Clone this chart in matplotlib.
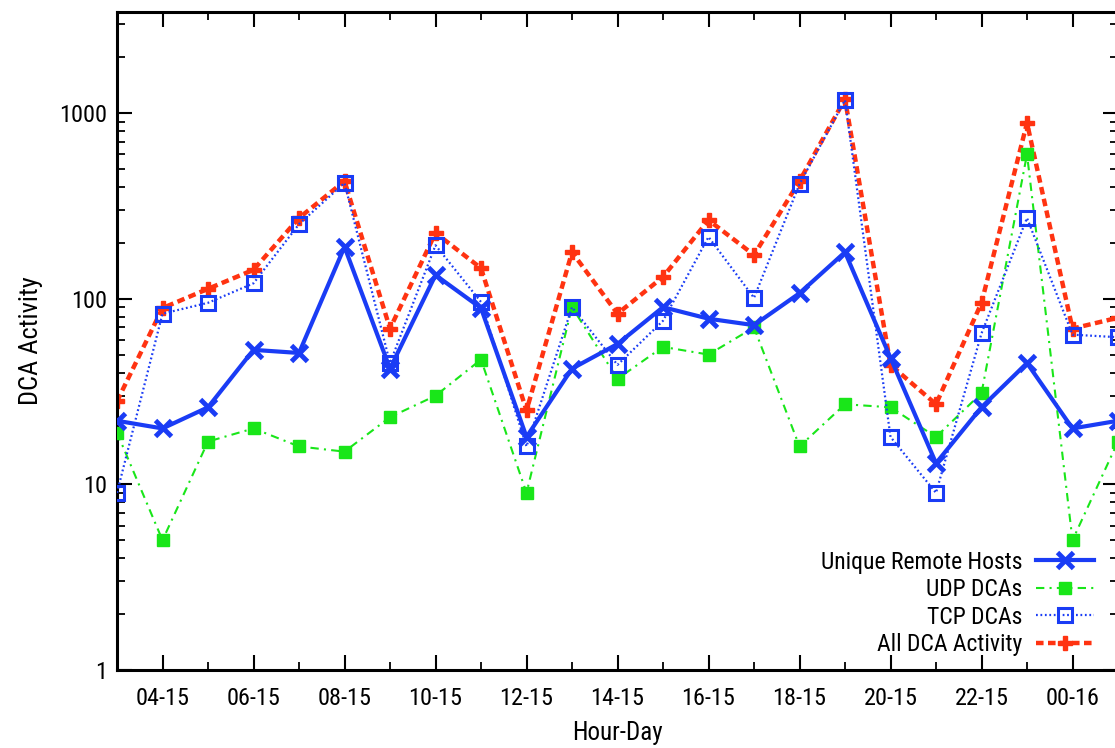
import matplotlib
matplotlib.use("Agg")
import matplotlib.pyplot as plt
from matplotlib import font_manager
from matplotlib.ticker import FixedLocator, LogLocator, NullFormatter, FixedFormatter

available = {f.name for f in font_manager.fontManager.ttflist}
narrow = None
for cand in ['Liberation Sans Narrow', 'Roboto Condensed', 'Open Sans Condensed']:
    if cand in available:
        narrow = cand
        break
if narrow is not None:
    plt.rcParams['font.family'] = [narrow, 'Liberation Sans', 'DejaVu Sans']
    FS = 17.5
    LFS = 17
else:
    plt.rcParams['font.family'] = ['Liberation Sans', 'DejaVu Sans']
    FS = 16
    LFS = 16

hours = ["03-15", "04-15", "05-15", "06-15", "07-15", "08-15", "09-15", "10-15",
         "11-15", "12-15", "13-15", "14-15", "15-15", "16-15", "17-15", "18-15",
         "19-15", "20-15", "21-15", "22-15", "23-15", "00-16", "01-16"]

unique_hosts = [22, 20, 26, 53, 51, 190, 42, 134, 89, 18, 42, 57, 90, 78, 72, 107,
                178, 48, 13, 26, 45, 20, 22]
udp_dcas = [19, 5, 17, 20, 16, 15, 23, 30, 47, 9, 90, 37, 55, 50, 70, 16,
            27, 26, 18, 31, 600, 5, 17]
tcp_dcas = [9, 83, 95, 121, 252, 420, 45, 194, 96, 16, 90, 44, 76, 215, 101, 414,
            1175, 18, 9, 65, 272, 64, 62]
all_dca = [28, 89, 113, 143, 272, 430, 69, 226, 146, 25, 178, 83, 131, 265, 172, 430,
           1190, 44, 27, 95, 884, 69, 79]

x = list(range(len(hours)))

W, H = 1115, 748
fig = plt.figure(figsize=(W / 100, H / 100), dpi=100)
ax = fig.add_axes([117 / W, (H - 670) / H, 1001 / W, 658 / H])

blue = '#1a3cf5'
green = '#19e619'
red = '#ff3311'

ax.plot(x, unique_hosts, color=blue, lw=3.0, marker='x', ms=11, mew=3.5,
        label='Unique Remote Hosts', zorder=4)
ax.plot(x, udp_dcas, color=green, lw=1.5, ls=(0, (4, 2.5, 1, 2.5)), marker='s', ms=9,
        mfc=green, mec=green, label='UDP DCAs', zorder=3)
ax.plot(x, tcp_dcas, color=blue, lw=1.6, ls=(0, (0.8, 1.2)), marker='s', ms=10,
        mfc='none', mec=blue, mew=2.2, label='TCP DCAs', zorder=3)
ax.plot(x, all_dca, color=red, lw=3.2, ls=(0, (1.7, 1.0)), marker='P', ms=10,
        mfc=red, mec=red, mew=1, label='All DCA Activity', zorder=2)

ax.set_yscale('log')
ax.set_ylim(1, 3500)
ax.set_xlim(0, 22)

major_idx = x[1::2]
ax.xaxis.set_major_locator(FixedLocator(major_idx))
ax.xaxis.set_major_formatter(FixedFormatter([hours[i] for i in major_idx]))
ax.xaxis.set_minor_locator(FixedLocator(x[0::2]))

ax.yaxis.set_major_locator(FixedLocator([1, 10, 100, 1000]))
ax.yaxis.set_major_formatter(FixedFormatter(['1', '10', '100', '1000']))
ax.yaxis.set_minor_locator(LogLocator(base=10, subs=range(2, 10)))
ax.yaxis.set_minor_formatter(NullFormatter())

ax.tick_params(which='major', direction='in', length=11, width=1.5, top=True, right=True,
               labelsize=FS, pad=12)
ax.tick_params(which='minor', direction='in', length=6, width=1.3, top=True, right=True)
ax.tick_params(axis='y', which='major', pad=7)
for s in ax.spines.values():
    s.set_linewidth(2.2)

ax.set_xlabel('Hour-Day', fontsize=FS + 0.5, labelpad=8)
ax.set_ylabel('DCA Activity', fontsize=FS + 1.5, labelpad=12)

leg = ax.legend(loc='lower right', bbox_to_anchor=(0.988, 0.003), frameon=False,
                markerfirst=False, fontsize=LFS, handlelength=2.45, labelspacing=0.19,
                handletextpad=0.6, borderpad=0.0)

fig.savefig('out.png', dpi=100)
